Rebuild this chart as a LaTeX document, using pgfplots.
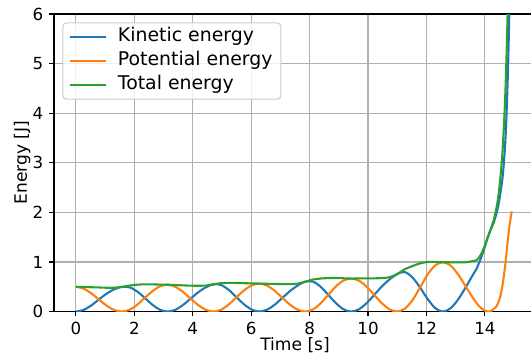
\documentclass[border=0pt]{standalone}
\usepackage{fontspec}
\setmainfont{DejaVu Sans}
\usepackage{pgfplots}
\pgfplotsset{compat=1.18}
\definecolor{c0}{HTML}{1F77B4}
\definecolor{c1}{HTML}{FF7F0E}
\definecolor{c2}{HTML}{2CA02C}
\definecolor{gridc}{HTML}{B0B0B0}
\definecolor{legc}{HTML}{CCCCCC}
\begin{document}
\fontsize{12}{14.4}\selectfont
\begin{tikzpicture}
\begin{axis}[
  scale only axis, width=347pt, height=214.2pt,
  xmin=-0.75, xmax=15.75, ymin=0, ymax=6,
  xtick={0,2,...,14}, ytick={0,1,...,6},
  grid=major, major grid style={gridc, line width=0.8pt},
  axis line style={line width=0.8pt},
  tick style={black, line width=0.8pt}, tick align=outside, major tick length=3.5pt,
  tick pos=left,
  xlabel={Time [s]}, ylabel={Energy [J]},
  tick label style={font=\fontsize{12}{14.4}\selectfont},
  label style={font=\fontsize{12.3}{14.4}\selectfont},
  xlabel style={yshift=6pt},
  ylabel style={yshift=-6.5pt},
  /pgf/number format/assume math mode=true,
  legend cell align=left,
  legend style={at={(0,1)}, anchor=north west, xshift=6pt, yshift=-6pt,
    draw=legc, fill=white, fill opacity=0.8, text opacity=1, rounded corners=2.5pt,
    line width=0.8pt, font=\fontsize{13.6}{16}\selectfont, row sep=0pt,
    inner xsep=4pt, inner ysep=1.5pt,
    nodes={inner ysep=1.85pt, inner xsep=2pt, text height=10.2pt, text depth=3.4pt},
    /tikz/every odd column/.append style={column sep=5.5pt}},
  legend image code/.code={\draw[#1] (0pt,0pt) -- (26.6pt,0pt);},
  every axis plot/.append style={line width=1.5pt, smooth},
]
\addplot[c0] coordinates {
(0.000,0.000) (0.262,0.033) (0.524,0.123) (0.785,0.243) (1.047,0.360) (1.309,0.448)
(1.571,0.498) (1.833,0.488) (2.094,0.407) (2.356,0.275) (2.618,0.137) (2.880,0.036)
(3.142,0.000) (3.403,0.036) (3.665,0.132) (3.927,0.261) (4.189,0.390) (4.451,0.490)
(4.712,0.551) (4.974,0.534) (5.236,0.434) (5.498,0.288) (5.760,0.143) (6.021,0.038)
(6.283,0.000) (6.545,0.038) (6.807,0.139) (7.069,0.277) (7.330,0.414) (7.592,0.526)
(7.854,0.603) (8.116,0.603) (8.378,0.500) (8.639,0.337) (8.901,0.169) (9.163,0.045)
(9.425,0.000) (9.687,0.045) (9.948,0.168) (10.210,0.335) (10.472,0.506) (10.734,0.646)
(10.996,0.755) (11.257,0.797) (11.519,0.688) (11.781,0.486) (12.043,0.250) (12.305,0.067)
(12.566,0.000) (12.828,0.067) (13.090,0.248) (13.352,0.498) (13.614,0.765)
(13.7,0.846) (13.8,0.980) (13.9,1.135) (14.0,1.311) (14.1,1.499) (14.2,1.654)
(14.3,1.790) (14.4,1.990) (14.45,2.110) (14.5,2.270) (14.55,2.460) (14.6,2.680)
(14.65,3.000) (14.7,3.440) (14.75,4.110) (14.8,5.080) (14.85,6.440) (14.92,8.980)
};
\addlegendentry{Kinetic energy}
\addplot[c1] coordinates {
(0.000,0.500) (0.262,0.462) (0.524,0.367) (0.785,0.243) (1.047,0.120) (1.309,0.032)
(1.571,0.000) (1.833,0.035) (2.094,0.136) (2.356,0.275) (2.618,0.410) (2.880,0.508)
(3.142,0.541) (3.403,0.499) (3.665,0.396) (3.927,0.261) (4.189,0.130) (4.451,0.035)
(4.712,0.000) (4.974,0.038) (5.236,0.145) (5.498,0.288) (5.760,0.429) (6.021,0.530)
(6.283,0.564) (6.545,0.522) (6.807,0.418) (7.069,0.277) (7.330,0.138) (7.592,0.038)
(7.854,0.000) (8.116,0.043) (8.378,0.167) (8.639,0.337) (8.901,0.508) (9.163,0.626)
(9.425,0.665) (9.687,0.623) (9.948,0.503) (10.210,0.335) (10.472,0.169) (10.734,0.046)
(10.996,0.000) (11.257,0.057) (11.519,0.229) (11.781,0.486) (12.043,0.750) (12.305,0.933)
(12.566,0.995) (12.828,0.926) (13.090,0.743) (13.352,0.498) (13.614,0.255)
(13.7,0.184) (13.8,0.110) (13.9,0.055) (14.0,0.019) (14.1,0.001) (14.2,0.006)
(14.3,0.050) (14.4,0.110) (14.45,0.170) (14.5,0.250) (14.55,0.360) (14.6,0.520)
(14.65,0.720) (14.7,0.960) (14.75,1.240) (14.8,1.520) (14.85,1.760) (14.92,2.020)
};
\addlegendentry{Potential energy}
\addplot[c2] coordinates {
(0.000,0.500) (0.262,0.495) (0.524,0.490) (0.785,0.486) (1.047,0.480) (1.309,0.480)
(1.571,0.498) (1.833,0.523) (2.094,0.542) (2.356,0.549) (2.618,0.547) (2.880,0.544)
(3.142,0.541) (3.403,0.535) (3.665,0.528) (3.927,0.522) (4.189,0.520) (4.451,0.525)
(4.712,0.551) (4.974,0.572) (5.236,0.578) (5.498,0.577) (5.760,0.572) (6.021,0.568)
(6.283,0.564) (6.545,0.560) (6.807,0.557) (7.069,0.554) (7.330,0.552) (7.592,0.564)
(7.854,0.603) (8.116,0.646) (8.378,0.666) (8.639,0.675) (8.901,0.677) (9.163,0.671)
(9.425,0.665) (9.687,0.668) (9.948,0.670) (10.210,0.670) (10.472,0.675) (10.734,0.692)
(10.996,0.755) (11.257,0.854) (11.519,0.917) (11.781,0.972) (12.043,1.000) (12.305,1.000)
(12.566,0.995) (12.828,0.993) (13.090,0.990) (13.352,0.995) (13.614,1.020)
(13.7,1.03) (13.8,1.09) (13.9,1.19) (14.0,1.33) (14.1,1.50) (14.2,1.66)
(14.3,1.84) (14.4,2.10) (14.45,2.28) (14.5,2.52) (14.55,2.82) (14.6,3.20)
(14.65,3.72) (14.7,4.40) (14.75,5.35) (14.8,6.60) (14.85,8.20) (14.92,11.0)
};
\addlegendentry{Total energy}
\end{axis}
\pgfresetboundingbox
\path (current axis.south west) ++(-38.9pt,-30.6pt) rectangle ++(382.3pt,254.9pt);
\end{tikzpicture}
\end{document}
